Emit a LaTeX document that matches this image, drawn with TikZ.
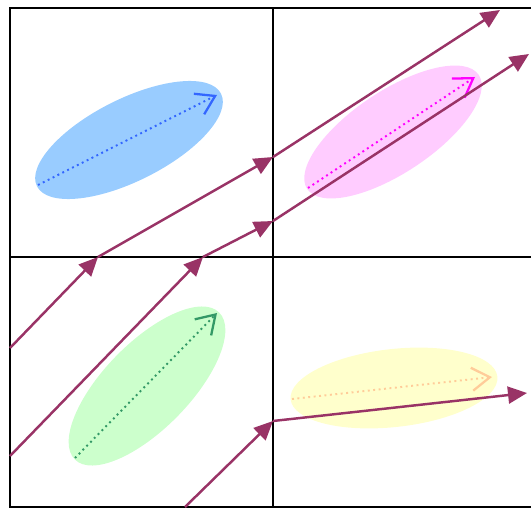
\documentclass[tikz,border=0pt]{standalone}
\usetikzlibrary{arrows.meta}
\definecolor{flowc}{HTML}{993366}
\definecolor{blobblue}{HTML}{99CCFF}
\definecolor{axisblue}{HTML}{3366FF}
\definecolor{blobpink}{HTML}{FFCCFF}
\definecolor{axispink}{HTML}{FF00FF}
\definecolor{blobgreen}{HTML}{CCFFCC}
\definecolor{axisgreen}{HTML}{339966}
\definecolor{blobyellow}{HTML}{FFFFCC}
\definecolor{axisyellow}{HTML}{FFCC99}
\begin{document}
\begin{tikzpicture}[x=0.02cm,y=0.02cm,
  flow/.style={draw=flowc,line width=1.4pt,-{Triangle[length=0.38cm,width=0.34cm]}},
  axis/.style={line width=1.1pt,dotted,-{Straight Barb[length=0.36cm,width=0.46cm,line width=1.3pt]}}]
\useasboundingbox (0,0) rectangle (531,508);
\fill[blobblue,rotate around={26.7:(129,368)}] (129,368) ellipse [x radius=103,y radius=41];
\fill[blobpink,rotate around={33.6:(393,376)}] (393,376) ellipse [x radius=103,y radius=41];
\fill[blobgreen,rotate around={45.6:(147,122)}] (147,122) ellipse [x radius=103,y radius=43];
\fill[blobyellow,rotate around={6.3:(394,120)}] (394,120) ellipse [x radius=104,y radius=39];
\draw[axis,axisblue] (38,323) -- (217,413);
\draw[axis,axispink] (308,320) -- (475,431);
\draw[axis,axisgreen] (75,50) -- (217,195);
\draw[axis,axisyellow] (292,109) -- (492,131);
\draw[line width=1.2pt] (531,500) -- (10,500) -- (10,1) -- (531,1);
\draw[line width=1.2pt] (273,1) -- (273,500);
\draw[line width=1.2pt] (10,251) -- (531,251);
\coordinate (a0) at (10,160);
\coordinate (a1) at (98,251);
\coordinate (a2) at (273,351);
\coordinate (a3) at (500,498);
\coordinate (b0) at (10,52);
\coordinate (b1) at (203,251);
\coordinate (b2) at (273,287);
\coordinate (b3) at (529,454);
\coordinate (c0) at (185,1);
\coordinate (c1) at (273,87);
\coordinate (c2) at (527,115);
\draw[flow] (a0) -- (a1);
\draw[flow] (a1) -- (a2);
\draw[flow] (a2) -- (a3);
\draw[flow] (b0) -- (b1);
\draw[flow] (b1) -- (b2);
\draw[flow] (b2) -- (b3);
\draw[flow] (c0) -- (c1);
\draw[flow] (c1) -- (c2);
\end{tikzpicture}
\end{document}
